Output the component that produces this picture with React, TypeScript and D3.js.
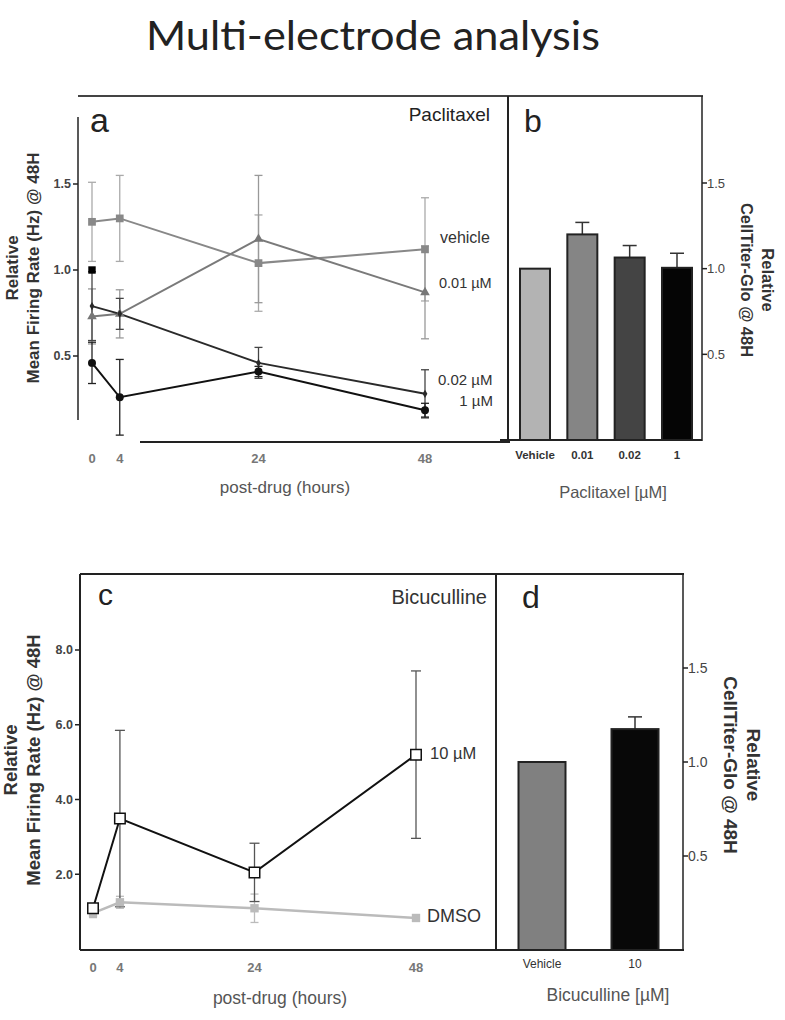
import React from "react";
import * as d3 from "d3";

// ---------- DATA ----------
const hours = [0, 4, 24, 48];

// Panel a (Paclitaxel) – relative mean firing rate
const vehicleA = [1.28, 1.3, 1.04, 1.12];
const vehicleAErr = [0.23, 0.25, 0.28, 0.3];
const p001A = [0.73, 0.745, 1.18, 0.87];
const p001AErr = [0.16, 0.14, 0.37, 0.27];
const p002A = [0.79, 0.745, 0.46, 0.28];
const p002AErr = [0.2, 0.09, 0.09, 0.14];
const p1A = [0.46, 0.26, 0.41, 0.185];
const p1AErr = [0.12, 0.22, 0.03, 0.04];
const baselineA = [{ t: 0, v: 1.0 }];
const yTicksA = [0.5, 1.0, 1.5];

// Panel b (Paclitaxel) – CellTiter-Glo
const catsB = ["Vehicle", "0.01", "0.02", "1"];
const valsB = [1.0, 1.2, 1.065, 1.005];
const errB = [0, 0.07, 0.07, 0.085];
const colorsB = ["#b3b3b3", "#858585", "#444444", "#050505"];
const yTicksB = [0.5, 1.0, 1.5];

// Panel c (Bicuculline) – relative mean firing rate
const bic10C = [1.09, 3.49, 2.05, 5.2];
const bic10CErr = [0.1, 2.36, 0.78, 2.24];
const dmsoC = [0.96, 1.25, 1.09, 0.83];
const dmsoCErr = [0.12, 0.16, 0.38, 0.05];
const yTicksC = [2, 4, 6, 8];

// Panel d (Bicuculline) – CellTiter-Glo
const catsD = ["Vehicle", "10"];
const valsD = [1.0, 1.175];
const errD = [0, 0.065];
const colorsD = ["#808080", "#080808"];
const yTicksD = [0.5, 1.0, 1.5];

// ---------- SCALES ----------
const xA = d3.scaleLinear().domain([0, 48]).range([92, 425]);
const yA = d3.scaleLinear().domain([0, 1.5]).range([442, 184]);
const xB = d3.scalePoint<string>().domain(catsB).range([535, 677]);
const yB = d3.scaleLinear().domain([0, 1.5]).range([440, 183]);
const xC = d3.scaleLinear().domain([0, 48]).range([93, 416]);
const yC = d3.scaleLinear().domain([0, 8]).range([949, 650]);
const xD = d3.scalePoint<string>().domain(catsD).range([542, 635]);
const yD = d3.scaleLinear().domain([0, 1.5]).range([950, 668]);

const FONT = "Liberation Sans, Arial, sans-serif";

type Pt = { t: number; v: number; e: number };
const zipPts = (v: number[], e: number[]): Pt[] =>
  hours.map((t, i) => ({ t, v: v[i], e: e[i] }));

function ErrBars({ pts, x, y, color, cap = 4, width = 1.3 }: any) {
  return (
    <g stroke={color} strokeWidth={width}>
      {pts.map((p: Pt, i: number) => {
        const cx = x(p.t);
        const y1 = y(p.v + p.e);
        const y2 = y(Math.max(0, p.v - p.e));
        return (
          <g key={i}>
            <line x1={cx} x2={cx} y1={y1} y2={y2} />
            <line x1={cx - cap} x2={cx + cap} y1={y1} y2={y1} />
            <line x1={cx - cap} x2={cx + cap} y1={y2} y2={y2} />
          </g>
        );
      })}
    </g>
  );
}

function Series({ pts, x, y, color, width = 2 }: any) {
  const line = d3
    .line<Pt>()
    .x((p) => x(p.t))
    .y((p) => y(p.v));
  return <path d={line(pts) || ""} fill="none" stroke={color} strokeWidth={width} />;
}

function Markers({ pts, x, y, shape, fill, stroke, size }: any) {
  const sym =
    shape === "square"
      ? d3.symbolSquare
      : shape === "triangle"
      ? d3.symbolTriangle
      : shape === "circle"
      ? d3.symbolCircle
      : d3.symbolDiamond;
  const gen = d3.symbol().type(sym).size(size);
  return (
    <g>
      {pts.map((p: Pt, i: number) => (
        <path
          key={i}
          d={gen() || ""}
          transform={`translate(${x(p.t)},${y(p.v)})`}
          fill={fill}
          stroke={stroke}
          strokeWidth={stroke === "none" ? 0 : 1.5}
        />
      ))}
    </g>
  );
}

function YTicksLeft({ ticks, x, y, fmt }: any) {
  return (
    <g>
      {ticks.map((t: number) => (
        <g key={t}>
          <line x1={x - 5} x2={x} y1={y(t)} y2={y(t)} stroke="#222" strokeWidth={1.5} />
          <text
            x={x - 7}
            y={y(t)}
            dy="0.35em"
            textAnchor="end"
            fontFamily={FONT}
            fontWeight="bold"
            fontSize={12.5}
            fill="#444"
          >
            {fmt(t)}
          </text>
        </g>
      ))}
    </g>
  );
}

function YTicksRight({ ticks, x, y, size = 13 }: any) {
  return (
    <g>
      {ticks.map((t: number) => (
        <g key={t}>
          <line x1={x} x2={x + 5} y1={y(t)} y2={y(t)} stroke="#222" strokeWidth={1.5} />
          <text
            x={x + 5}
            y={y(t)}
            dy="0.35em"
            textAnchor="start"
            fontFamily={FONT}
            fontSize={size}
            fill="#444"
          >
            {d3.format(".1f")(t)}
          </text>
        </g>
      ))}
    </g>
  );
}

function XTicks({ x, y, color = "#666" }: any) {
  return (
    <g>
      {hours.map((h) => (
        <text
          key={h}
          x={x(h)}
          y={y}
          textAnchor="middle"
          fontFamily={FONT}
          fontWeight="bold"
          fontSize={13}
          fill={color}
        >
          {h}
        </text>
      ))}
    </g>
  );
}

function LeftTitle({ cx, cy, size }: any) {
  return (
    <g transform={`translate(${cx},${cy}) rotate(-90)`}>
      <text
        x={0}
        y={-size * 0.55}
        textAnchor="middle"
        fontFamily={FONT}
        fontWeight="bold"
        fontSize={size}
        fill="#333"
      >
        Relative
      </text>
      <text
        x={0}
        y={size * 0.7}
        textAnchor="middle"
        fontFamily={FONT}
        fontWeight="bold"
        fontSize={size}
        fill="#333"
      >
        Mean Firing Rate (Hz) @ 48H
      </text>
    </g>
  );
}

function RightTitle({ cx, cy, size }: any) {
  return (
    <g transform={`translate(${cx},${cy}) rotate(90)`}>
      <text
        x={0}
        y={-size * 0.55}
        textAnchor="middle"
        fontFamily={FONT}
        fontWeight="bold"
        fontSize={size}
        fill="#333"
      >
        Relative
      </text>
      <text
        x={0}
        y={size * 0.7}
        textAnchor="middle"
        fontFamily={FONT}
        fontWeight="bold"
        fontSize={size}
        fill="#333"
      >
        CellTiter-Glo @ 48H
      </text>
    </g>
  );
}

function Bars({ cats, vals, errs, colors, x, y, w, y0 }: any) {
  return (
    <g>
      {cats.map((c: string, i: number) => {
        const cx = x(c);
        const top = y(vals[i]);
        const et = y(vals[i] + errs[i]);
        return (
          <g key={c}>
            {errs[i] > 0 && (
              <g stroke="#333" strokeWidth={1.5}>
                <line x1={cx} x2={cx} y1={top} y2={et} />
                <line x1={cx - 7} x2={cx + 7} y1={et} y2={et} />
              </g>
            )}
            <rect
              x={cx - w / 2}
              y={top}
              width={w}
              height={y0 - top}
              fill={colors[i]}
              stroke="#222"
              strokeWidth={2}
            />
          </g>
        );
      })}
    </g>
  );
}

export default function App() {
  const vehPts = zipPts(vehicleA, vehicleAErr);
  const p001Pts = zipPts(p001A, p001AErr);
  const p002Pts = zipPts(p002A, p002AErr);
  const p1Pts = zipPts(p1A, p1AErr);
  const basePts = baselineA.map((b) => ({ ...b, e: 0 }));
  const b10Pts = zipPts(bic10C, bic10CErr);
  const dmsoPts = zipPts(dmsoC, dmsoCErr);
  const fmtA = d3.format(".1f");

  return (
    <svg
      width={785}
      height={1020}
      style={{ position: "absolute", left: 0, top: 0, background: "#fff" }}
    >
      <rect width={785} height={1020} fill="#fff" />
      {/* Title */}
      <text
        x={146}
        y={50}
        textAnchor="start"
        fontFamily="Lato, Open Sans, sans-serif"
        fontSize={40}
        textLength={454}
        lengthAdjust="spacingAndGlyphs"
        fill="#222"
      >
        Multi-electrode analysis
      </text>

      {/* ===== Panel a ===== */}
      <g>
        <line x1={78} x2={703} y1={96} y2={96} stroke="#444" strokeWidth={2} />
        <line x1={78} x2={78} y1={117} y2={420} stroke="#222" strokeWidth={1.5} />
        <line x1={140} x2={510} y1={442} y2={442} stroke="#222" strokeWidth={2} />
        <line x1={508} x2={508} y1={96} y2={442} stroke="#222" strokeWidth={2} />
        <YTicksLeft ticks={yTicksA} x={78} y={yA} fmt={fmtA} />
        <XTicks x={xA} y={463} color="#777" />
        <text x={285} y={493} textAnchor="middle" fontFamily={FONT} fontSize={17} fill="#555">
          post-drug (hours)
        </text>
        <LeftTitle cx={27} cy={268} size={17} />
        <text x={90} y={132} fontFamily={FONT} fontSize={34} fill="#222">
          a
        </text>
        <text x={490} y={121} textAnchor="end" fontFamily={FONT} fontSize={19} fill="#222">
          Paclitaxel
        </text>

        <ErrBars pts={vehPts} x={xA} y={yA} color="#aaa" />
        <ErrBars pts={p001Pts} x={xA} y={yA} color="#999" />
        <ErrBars pts={p002Pts} x={xA} y={yA} color="#444" />
        <ErrBars pts={p1Pts} x={xA} y={yA} color="#222" />

        <Series pts={vehPts} x={xA} y={yA} color="#888" />
        <Series pts={p001Pts} x={xA} y={yA} color="#7a7a7a" />
        <Series pts={p002Pts} x={xA} y={yA} color="#2a2a2a" />
        <Series pts={p1Pts} x={xA} y={yA} color="#111" />

        <Markers pts={vehPts} x={xA} y={yA} shape="square" fill="#888" stroke="none" size={60} />
        <Markers pts={p001Pts} x={xA} y={yA} shape="triangle" fill="#777" stroke="none" size={40} />
        <Markers pts={p002Pts} x={xA} y={yA} shape="diamond" fill="#2a2a2a" stroke="none" size={20} />
        <Markers pts={p1Pts} x={xA} y={yA} shape="circle" fill="#111" stroke="none" size={50} />
        <Markers pts={basePts} x={xA} y={yA} shape="square" fill="#000" stroke="none" size={55} />

        <text x={440} y={243} fontFamily={FONT} fontSize={16} fill="#333">vehicle</text>
        <text x={439} y={288} fontFamily={FONT} fontSize={14.5} fill="#333">0.01 µM</text>
        <text x={438} y={385} fontFamily={FONT} fontSize={15} fill="#333">0.02 µM</text>
        <text x={493} y={406} textAnchor="end" fontFamily={FONT} fontSize={15} fill="#333">1 µM</text>
      </g>

      {/* ===== Panel b ===== */}
      <g>
        <line x1={500} x2={702} y1={440} y2={440} stroke="#222" strokeWidth={2} />
        <line x1={702} x2={702} y1={96} y2={441} stroke="#222" strokeWidth={1.5} />
        <YTicksRight ticks={yTicksB} x={702} y={yB} />
        <RightTitle cx={753} cy={280} size={16.5} />
        <text x={524} y={132} fontFamily={FONT} fontSize={32} fill="#222">
          b
        </text>
        <Bars cats={catsB} vals={valsB} errs={errB} colors={colorsB} x={xB} y={yB} w={30} y0={440} />
        {catsB.map((c) => (
          <text
            key={c}
            x={xB(c)}
            y={459}
            textAnchor="middle"
            fontFamily={FONT}
            fontWeight="bold"
            fontSize={11.5}
            fill="#333"
          >
            {c}
          </text>
        ))}
        <text x={613} y={498} textAnchor="middle" fontFamily={FONT} fontSize={16.5} fill="#555">
          Paclitaxel [µM]
        </text>
      </g>

      {/* ===== Panel c ===== */}
      <g>
        <line x1={80} x2={684} y1={574} y2={574} stroke="#222" strokeWidth={2} />
        <line x1={80} x2={80} y1={574} y2={950} stroke="#222" strokeWidth={2} />
        <line x1={80} x2={684} y1={950} y2={950} stroke="#222" strokeWidth={2} />
        <line x1={496} x2={496} y1={574} y2={950} stroke="#222" strokeWidth={2} />
        <YTicksLeft ticks={yTicksC} x={80} y={yC} fmt={d3.format(".1f")} />
        <XTicks x={xC} y={972} color="#777" />
        <text x={280} y={1004} textAnchor="middle" fontFamily={FONT} fontSize={17.5} fill="#555">
          post-drug (hours)
        </text>
        <LeftTitle cx={27} cy={760} size={18.5} />
        <text x={98} y={605} fontFamily={FONT} fontSize={30} fill="#222">
          c
        </text>
        <text x={487} y={604} textAnchor="end" fontFamily={FONT} fontSize={20} fill="#333">
          Bicuculline
        </text>

        <ErrBars pts={dmsoPts} x={xC} y={yC} color="#bbb" cap={4} />
        <ErrBars pts={b10Pts} x={xC} y={yC} color="#555" cap={5} />
        <Series pts={dmsoPts} x={xC} y={yC} color="#bbb" width={2.5} />
        <Series pts={b10Pts} x={xC} y={yC} color="#111" width={2} />
        <Markers pts={dmsoPts} x={xC} y={yC} shape="square" fill="#bbb" stroke="none" size={70} />
        <Markers pts={b10Pts} x={xC} y={yC} shape="square" fill="#fff" stroke="#111" size={110} />

        <text x={430} y={759} fontFamily={FONT} fontSize={16.5} fill="#333">10 µM</text>
        <text x={427} y={922} fontFamily={FONT} fontSize={18} fill="#333">DMSO</text>
      </g>

      {/* ===== Panel d ===== */}
      <g>
        <line x1={683} x2={683} y1={574} y2={950} stroke="#222" strokeWidth={1.5} />
        <YTicksRight ticks={yTicksD} x={683} y={yD} size={14} />
        <RightTitle cx={737} cy={765} size={19} />
        <text x={522} y={608} fontFamily={FONT} fontSize={32} fill="#222">
          d
        </text>
        <Bars cats={catsD} vals={valsD} errs={errD} colors={colorsD} x={xD} y={yD} w={47} y0={950} />
        {catsD.map((c) => (
          <text
            key={c}
            x={xD(c)}
            y={968}
            textAnchor="middle"
            fontFamily={FONT}
            fontSize={12}
            fill="#333"
          >
            {c}
          </text>
        ))}
        <text x={608} y={1001} textAnchor="middle" fontFamily={FONT} fontSize={17.5} fill="#555">
          Bicuculline [µM]
        </text>
      </g>
    </svg>
  );
}
